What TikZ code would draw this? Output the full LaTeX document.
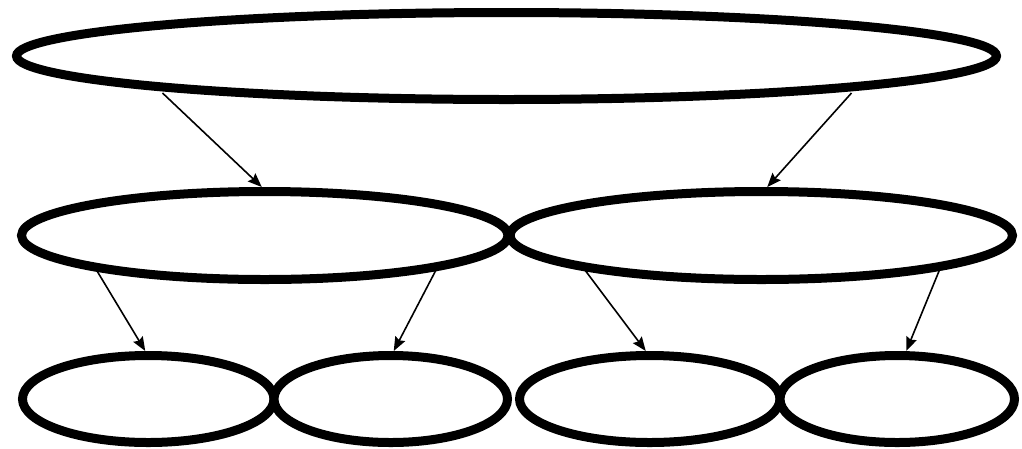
\documentclass[tikz,border=0pt]{standalone}
\usetikzlibrary{shapes.geometric,arrows.meta,calc}
\begin{document}
\begin{tikzpicture}[x=1pt,y=-1pt,
  oval/.style={ellipse,draw=black,line width=9pt,inner sep=0pt,fill=white},
  link/.style={line width=1.6pt,-{Stealth[length=14pt,width=11pt,inset=2pt]}}]
\useasboundingbox (0,0) rectangle (1022,448);
\node[oval,minimum width=980pt,minimum height=87pt] (top) at (506.5,56) {};
\node[oval,minimum width=486.5pt,minimum height=88pt] (ml) at (264.75,235.5) {};
\node[oval,minimum width=502.5pt,minimum height=88pt] (mr) at (761.25,235.5) {};
\node[oval,minimum width=251.5pt,minimum height=87pt] (b1) at (148.25,399) {};
\node[oval,minimum width=233.5pt,minimum height=87pt] (b2) at (390.75,399) {};
\node[oval,minimum width=260.5pt,minimum height=87pt] (b3) at (649.75,399) {};
\node[oval,minimum width=234.5pt,minimum height=87pt] (b4) at (897.25,399) {};
\draw[link] ($(top.center)+(-344,37)$) -- ($(ml.north)+(-3,0)$);
\draw[link] ($(top.center)+(345,37)$) -- ($(mr.north)+(6,0)$);
\draw[link] ($(ml.center)+(-168,35)$) -- ($(b1.north)+(-3,0)$);
\draw[link] ($(ml.center)+(171,35)$) -- ($(b2.north)+(3,0)$);
\draw[link] ($(mr.center)+(-176,35)$) -- ($(b3.north)+(-4,0)$);
\draw[link] ($(mr.center)+(178,35)$) -- ($(b4.north)+(9,0)$);
\end{tikzpicture}
\end{document}
